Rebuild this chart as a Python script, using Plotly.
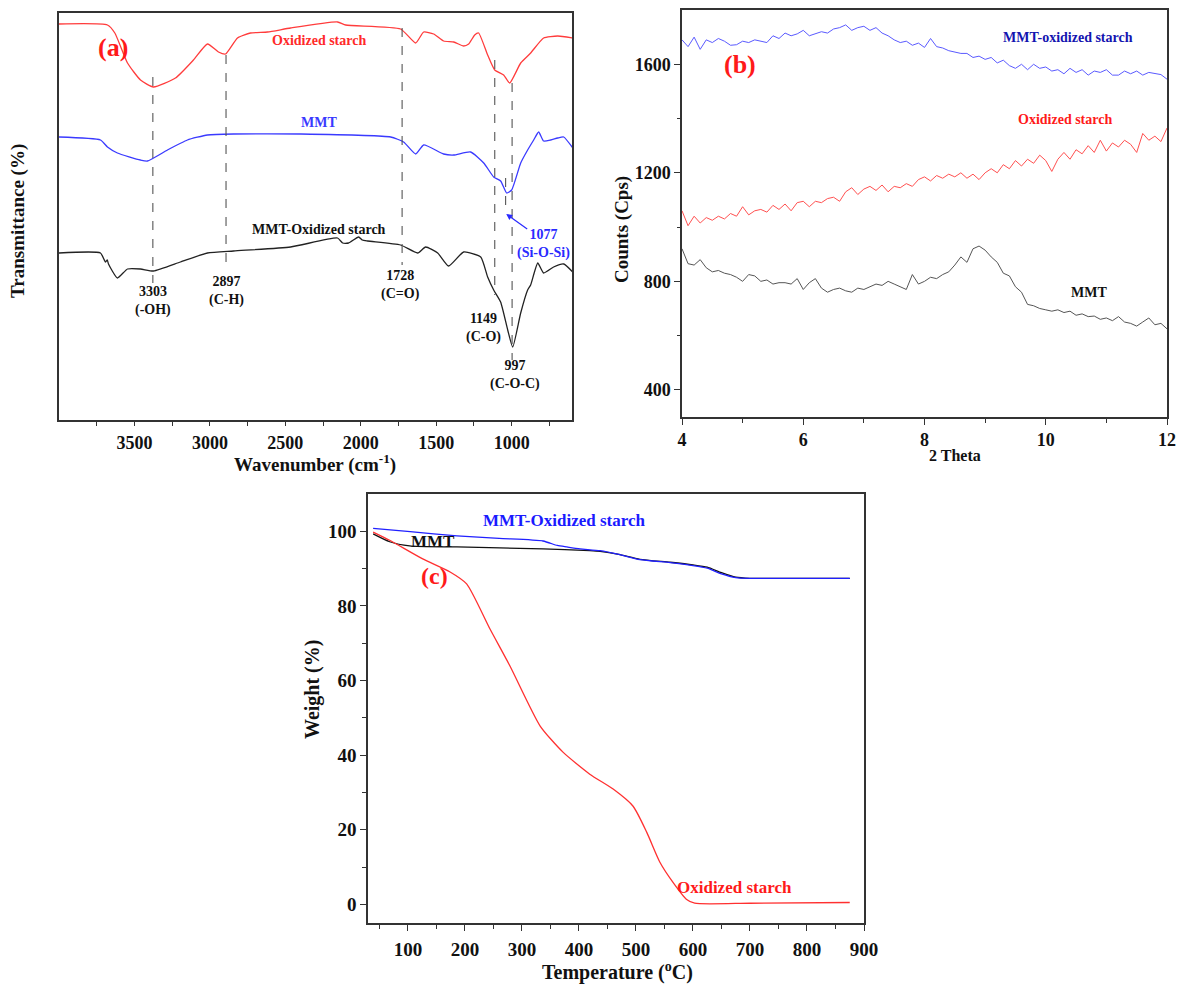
import plotly.graph_objects as go

FONT = "Liberation Serif"
W, H = 1183, 988

# ---------------- (a) FTIR (transmittance, arbitrary units) ----------------
ftir_wn_os = [4000, 3679, 3630, 3546, 3460, 3374, 3228, 3109, 3016, 2943,
              2896, 2817, 2731, 2618, 2465, 2154, 2100, 1736, 1636, 1583,
              1517, 1451, 1384, 1318, 1285, 1245, 1219, 1159, 1112, 1053,
              1013, 940, 874, 788, 695, 595]
ftir_os = [396, 395, 387, 357, 340, 333, 342, 360, 376, 368,
           366, 382, 387, 388, 392, 398, 395, 391, 377, 388,
           386, 379, 378, 374, 376, 385, 387, 365, 350, 345,
           337, 357, 367, 382, 384, 382]

ftir_wn_mmt = [4000, 3725, 3679, 3613, 3460, 3414, 3281, 3149, 3016, 2843,
               2399, 1802, 1716, 1636, 1583, 1451, 1384, 1272, 1185, 1119,
               1073, 1033, 1000, 940, 894, 854, 821, 788, 741, 695,
               655, 595]
ftir_mmt = [283, 280, 273, 267, 260, 259, 270, 280, 285, 286,
            286, 283, 278, 266, 275, 266, 265, 268, 257, 243,
            239, 227, 230, 257, 270, 280, 288, 279, 280, 282,
            283, 272]

ftir_wn_comp = [4000, 3725, 3692, 3680, 3672, 3613, 3546, 3460, 3374, 3195,
                3016, 2843, 2465, 2154, 2120, 2081, 2014, 1990, 1955, 1736,
                1623, 1570, 1490, 1418, 1318, 1205, 1159, 1119, 1073, 1026,
                993, 940, 894, 874, 827, 788, 722, 655, 595]
ftir_comp = [167, 167, 158, 160, 156, 142, 151, 151, 149, 158,
             167, 169, 173, 182, 177, 177, 183, 180, 179, 175,
             167, 173, 167, 154, 168, 163, 143, 130, 118, 90,
             73, 107, 130, 135, 157, 147, 153, 156, 148]

# dashed marker lines (position, top, bottom)
peak_wn = [3378, 2893, 1726, 1112, 1040, 997]
peak_top = [343, 365, 392, 360, 242, 337]
peak_bottom = [137, 157, 155, 125, 207, 60]

peak_labels = ["3303<br>(-OH)", "2897<br>(C-H)", "1728<br>(C=O)", "1149<br>(C-O)", "997<br>(C-O-C)"]
label_wn = [3378, 2893, 1736, 1185, 980]
label_y = [119, 129, 135, 92, 45]

ftir_ticks = [3500, 3000, 2500, 2000, 1500, 1000]
ftir_minor = [3750, 3250, 2750, 2250, 1750, 1250, 750]

# ---------------- (b) XRD ----------------
theta = [round(4 + 0.1 * i, 1) for i in range(81)]
xrd_comp = [1690, 1665, 1700, 1655, 1690, 1680, 1695, 1685, 1670, 1672,
            1685, 1680, 1690, 1685, 1680, 1705, 1695, 1715, 1705, 1712,
            1725, 1705, 1712, 1720, 1715, 1730, 1735, 1745, 1725, 1735,
            1740, 1725, 1735, 1715, 1705, 1690, 1680, 1685, 1670, 1678,
            1662, 1695, 1665, 1660, 1650, 1645, 1640, 1640, 1625, 1630,
            1618, 1625, 1605, 1615, 1595, 1585, 1600, 1580, 1600, 1585,
            1590, 1575, 1580, 1565, 1585, 1570, 1580, 1560, 1575, 1570,
            1580, 1560, 1560, 1575, 1565, 1575, 1560, 1570, 1565, 1562,
            1545]
xrd_os = [1060, 1005, 1040, 1015, 1035, 1025, 1040, 1030, 1050, 1040,
          1075, 1045, 1060, 1065, 1055, 1080, 1065, 1085, 1060, 1090,
          1095, 1075, 1095, 1090, 1105, 1110, 1095, 1130, 1145, 1120,
          1140, 1150, 1135, 1155, 1130, 1150, 1145, 1160, 1150, 1175,
          1185, 1170, 1190, 1180, 1195, 1185, 1200, 1180, 1195, 1175,
          1200, 1215, 1200, 1230, 1215, 1245, 1225, 1250, 1235, 1265,
          1245, 1205, 1250, 1275, 1250, 1285, 1270, 1300, 1275, 1320,
          1280, 1310, 1295, 1320, 1305, 1275, 1345, 1320, 1335, 1315,
          1365]
xrd_mmt = [920, 865, 860, 880, 850, 835, 840, 830, 825, 815,
           800, 825, 820, 800, 805, 790, 795, 795, 790, 810,
           770, 795, 810, 775, 760, 770, 775, 765, 760, 775,
           770, 780, 790, 785, 800, 790, 780, 770, 825, 790,
           800, 815, 810, 825, 835, 860, 890, 870, 920, 930,
           915, 890, 870, 830, 820, 780, 760, 715, 710, 700,
           695, 690, 695, 685, 690, 675, 680, 670, 672, 660,
           665, 655, 670, 650, 645, 635, 650, 665, 640, 645,
           625]

# ---------------- (c) TGA ----------------
tga_T_comp = [39, 104, 186, 260, 337, 362, 379, 402, 437, 470, 507, 560, 600, 625, 650, 675, 700, 800, 875]
tga_comp = [100.8, 99.9, 98.8, 98.1, 97.4, 96.2, 95.8, 95.3, 94.8, 93.8, 92.4, 91.6, 90.8, 90.1, 88.6, 87.6, 87.4, 87.4, 87.4]
tga_T_mmt = [39, 68, 103, 186, 337, 419, 437, 470, 507, 560, 600, 625, 650, 675, 700, 800, 875]
tga_mmt = [99.3, 97.2, 96.1, 95.8, 95.3, 94.8, 94.6, 93.8, 92.5, 91.7, 91.0, 90.4, 88.9, 87.7, 87.4, 87.4, 87.4]
tga_T_os = [39, 68, 126, 174, 203, 244, 279, 332, 372, 419, 460, 495, 519, 542, 565, 589, 603, 700, 875]
tga_os = [99.8, 97.6, 92.6, 89.1, 85.9, 73.8, 63.9, 47.8, 40.8, 34.9, 30.9, 26.3, 19.3, 11.3, 5.9, 1.3, 0.3, 0.3, 0.5]

fig = go.Figure()

# (a)
fig.add_trace(go.Scatter(x=ftir_wn_os, y=ftir_os, mode="lines", xaxis="x", yaxis="y",
                         line=dict(color="#ff3c3c", width=1.3, shape="spline", smoothing=0.5)))
fig.add_trace(go.Scatter(x=ftir_wn_mmt, y=ftir_mmt, mode="lines", xaxis="x", yaxis="y",
                         line=dict(color="#3a3aff", width=1.3, shape="spline", smoothing=0.5)))
fig.add_trace(go.Scatter(x=ftir_wn_comp, y=ftir_comp, mode="lines", xaxis="x", yaxis="y",
                         line=dict(color="#222222", width=1.3, shape="spline", smoothing=0.5)))
for wn, t, b in zip(peak_wn, peak_top, peak_bottom):
    fig.add_trace(go.Scatter(x=[wn, wn], y=[t, b], mode="lines", xaxis="x", yaxis="y",
                             line=dict(color="#555555", width=1.1, dash="dash")))

# (b)
fig.add_trace(go.Scatter(x=theta, y=xrd_comp, mode="lines", xaxis="x2", yaxis="y2",
                         line=dict(color="#5a5aff", width=1)))
fig.add_trace(go.Scatter(x=theta, y=xrd_os, mode="lines", xaxis="x2", yaxis="y2",
                         line=dict(color="#ff5050", width=1)))
fig.add_trace(go.Scatter(x=theta, y=xrd_mmt, mode="lines", xaxis="x2", yaxis="y2",
                         line=dict(color="#555555", width=1)))

# (c)
fig.add_trace(go.Scatter(x=tga_T_mmt, y=tga_mmt, mode="lines", xaxis="x3", yaxis="y3",
                         line=dict(color="#111111", width=1.3, shape="spline", smoothing=0.6)))
fig.add_trace(go.Scatter(x=tga_T_comp, y=tga_comp, mode="lines", xaxis="x3", yaxis="y3",
                         line=dict(color="#2020ff", width=1.3, shape="spline", smoothing=0.6)))
fig.add_trace(go.Scatter(x=tga_T_os, y=tga_os, mode="lines", xaxis="x3", yaxis="y3",
                         line=dict(color="#ff3030", width=1.3, shape="spline", smoothing=0.6)))

axcol = "#333333"


def tf(size):
    return dict(family=FONT, size=size, color="#111111", weight="bold")


def dom_x(a, b):
    return [a / W, b / W]


def dom_y(top, bottom):
    return [1 - bottom / H, 1 - top / H]


common = dict(showline=True, linecolor=axcol, linewidth=1.5, mirror=True, showgrid=False,
              zeroline=False, tickcolor=axcol, tickwidth=1.2, automargin=False)

fig.update_layout(
    template="none",
    width=W, height=H, autosize=False, margin=dict(l=0, r=0, t=0, b=0, pad=0),
    paper_bgcolor="white", plot_bgcolor="white", showlegend=False,
    xaxis=dict(domain=dom_x(59, 572), anchor="y", range=[4000, 600], tickmode="array",
               tickvals=ftir_ticks, ticks="outside", ticklen=4, ticklabelstandoff=2,
               tickfont=tf(18),
               minor=dict(tickmode="array", tickvals=ftir_minor, ticks="outside", ticklen=4,
                          tickcolor=axcol), **common),
    yaxis=dict(domain=dom_y(13, 420), anchor="x", range=[0, 407], showticklabels=False,
               ticks="", **common),
    xaxis2=dict(domain=dom_x(682, 1167), anchor="y2", range=[4, 12], tickmode="array",
                tickvals=[4, 6, 8, 10, 12], ticks="outside", ticklen=6, ticklabelstandoff=0,
                tickfont=tf(18),
                minor=dict(tickmode="array", tickvals=[5, 7, 9, 11], ticks="outside", ticklen=4,
                           tickcolor=axcol), **common),
    yaxis2=dict(domain=dom_y(10, 417), anchor="x2", range=[300, 1800], tickmode="array",
                tickvals=[400, 800, 1200, 1600], ticks="outside", ticklen=6,
                tickfont=tf(18),
                minor=dict(tickmode="array", tickvals=[600, 1000, 1400], ticks="outside", ticklen=3,
                           tickcolor=axcol), **common),
    xaxis3=dict(domain=dom_x(368, 864), anchor="y3", range=[30, 900], tickmode="array",
                tickvals=[100, 200, 300, 400, 500, 600, 700, 800, 900], ticks="outside", ticklen=6,
                ticklabelstandoff=2, tickfont=tf(19),
                minor=dict(tickmode="array", tickvals=[50, 150, 250, 350, 450, 550, 650, 750, 850],
                           ticks="outside", ticklen=4, tickcolor=axcol), **common),
    yaxis3=dict(domain=dom_y(494, 923), anchor="x3", range=[-5, 110], tickmode="array",
                tickvals=[0, 20, 40, 60, 80, 100], ticks="outside", ticklen=6, tickfont=tf(19),
                minor=dict(tickmode="array", tickvals=[10, 30, 50, 70, 90], ticks="outside",
                           ticklen=4, tickcolor=axcol), **common),
)


def txt(text, x, y, xref, yref, size, color, angle=0):
    fig.add_annotation(text=text, x=x, y=y, xref=xref, yref=yref, showarrow=False,
                       textangle=angle, xanchor="center", yanchor="middle",
                       font=dict(family=FONT, size=size, color=color, weight="bold"))


# (a) annotations
txt("(a)", 3639, 373, "x", "y", 26, "#ff1a1a")
txt("Oxidized starch", 2280, 380, "x", "y", 14, "#ff2a2a")
txt("MMT", 2280, 298, "x", "y", 14, "#3a3aff")
txt("MMT-Oxidized starch", 2280, 191, "x", "y", 14, "#111111")
for lab, wx, wy in zip(peak_labels, label_wn, label_y):
    txt(lab, wx, wy, "x", "y", 14, "#111111")
txt("1077<br>(Si-O-Si)", 788, 176, "x", "y", 14, "#2a2aff")
fig.add_annotation(x=1036, y=206, ax=887, ay=190, xref="x", yref="y", axref="x", ayref="y",
                   text="", showarrow=True, arrowhead=2, arrowsize=1, arrowwidth=1.2,
                   arrowcolor="#2a2aff")
txt("Wavenumber (cm<sup>-1</sup>)", 315 / W, 1 - 463 / H, "paper", "paper", 19, "#111111")
txt("Transmittance (%)", 18 / W, 1 - 221 / H, "paper", "paper", 19, "#111111", -90)

# (b) annotations
txt("(b)", 4.96, 1600, "x2", "y2", 26, "#ff1a1a")
txt("MMT-oxidized starch", 10.37, 1699, "x2", "y2", 14, "#1414b0")
txt("Oxidized starch", 10.32, 1398, "x2", "y2", 14, "#ff1a1a")
txt("MMT", 10.72, 760, "x2", "y2", 14, "#111111")
txt("Counts (Cps)", 622 / W, 1 - 230 / H, "paper", "paper", 19, "#111111", -90)
txt("2 Theta", 955 / W, 1 - 455 / H, "paper", "paper", 16, "#111111")

# (c) annotations
txt("MMT-Oxidized starch", 375, 102.8, "x3", "y3", 17, "#1a1aff")
txt("MMT", 144, 97.4, "x3", "y3", 17, "#111111")
txt("(c)", 147, 88, "x3", "y3", 24, "#ff1a1a")
txt("Oxidized starch", 672, 4.6, "x3", "y3", 17, "#ff1a1a")
txt("Weight (%)", 312 / W, 1 - 690 / H, "paper", "paper", 20, "#111111", -90)
txt("Temperature (<sup>o</sup>C)", 617 / W, 1 - 971 / H, "paper", "paper", 20, "#111111")

post = (
    "document.documentElement.style.overflow='hidden';"
    "document.body.style.margin='0';document.body.style.overflow='hidden';"
)
fig.write_html("out.html", config={"displayModeBar": False}, post_script=post)
